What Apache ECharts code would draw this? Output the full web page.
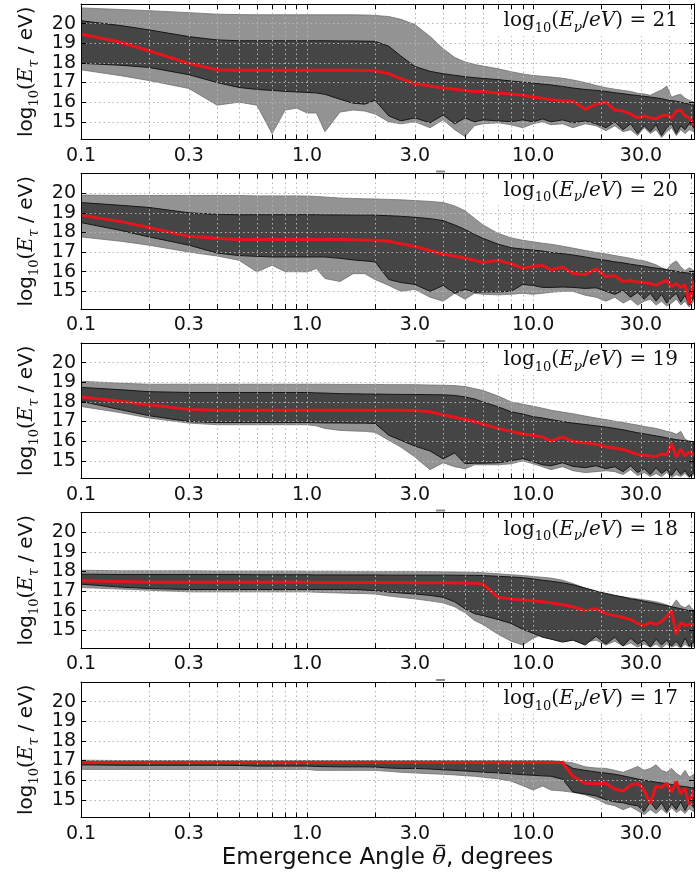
<!DOCTYPE html>
<html>
<head>
<meta charset="utf-8">
<script src="https://cdn.jsdelivr.net/npm/echarts@6/dist/echarts.min.js"></script>
<style>
  html, body { margin: 0; padding: 0; background: #ffffff; }
  #chart { width: 696px; height: 874px; }
</style>
</head>
<body>
<div id="chart"></div>
<script>
// Emergence angle grid (degrees) shared by every panel
const THETA = [0.1, 0.15, 0.2, 0.3, 0.4, 0.5, 0.6, 0.7, 0.8, 0.9,
               1.0, 1.1, 1.2, 1.4, 1.6, 1.8, 2.0, 2.3, 2.6, 3.0,
               3.5, 4.0, 4.5, 5.0, 5.5, 6.0, 7, 8, 9, 10,
               11, 12, 13.5, 15, 17, 19, 21, 23, 25, 27,
               29, 31, 33, 35, 37, 39, 41, 43, 45, 47,
               49, 51.5];

const THETA_RANGE = [0.1, 51.5];
const Y_RANGE = [14.1, 21];
const X_LABEL_VALUES = [0.1, 0.3, 1, 3, 10, 30];
const X_TICK_VALUES = [0.1, 0.2, 0.3, 0.4, 0.5, 0.6, 0.7, 0.8, 0.9,
                       1, 2, 3, 4, 5, 6, 7, 8, 9, 10, 20, 30, 40, 50];
const Y_TICK_VALUES = [15, 16, 17, 18, 19, 20];
const ENERGIES = [21, 20, 19, 18, 17];

// log10(E_nu/eV) = 21
const outerHigh21 = [20.8, 20.72, 20.66, 20.56, 20.48, 20.46, 20.45, 20.45, 20.45, 20.45,
  20.45, 20.45, 20.45, 20.45, 20.45, 20.44, 20.42, 20.36, 20.22, 19.95,
  19.35, 18.72, 18.28, 18.05, 17.92, 17.84, 17.7, 17.55, 17.44, 17.36,
  17.32, 17.28, 17.22, 17.13, 17.0, 16.85, 16.74, 16.66, 16.6, 16.55,
  16.45, 16.42, 16.35, 16.5, 16.62, 16.82, 16.25, 16.35, 16.4, 16.2,
  16.1, 16.0];
const innerHigh21 = [20.15, 19.9, 19.68, 19.34, 19.17, 19.13, 19.13, 19.13, 19.13, 19.13,
  19.13, 19.13, 19.13, 19.12, 19.12, 19.11, 19.1, 18.85, 18.35, 17.82,
  17.57, 17.45, 17.37, 17.3, 17.25, 17.21, 17.15, 17.08, 17.02, 16.97,
  16.92, 16.88, 16.8, 16.72, 16.65, 16.6, 16.55, 16.48, 16.43, 16.38,
  16.34, 16.3, 16.26, 16.22, 16.18, 16.12, 16.08, 16.05, 16.0, 15.95,
  15.9, 15.85];
const median21 = [19.47, 19.05, 18.62, 17.98, 17.65, 17.63, 17.63, 17.63, 17.63, 17.63,
  17.63, 17.63, 17.63, 17.63, 17.63, 17.62, 17.6, 17.45, 17.2, 16.95,
  16.82, 16.72, 16.66, 16.6, 16.55, 16.55, 16.47, 16.42, 16.35, 16.25,
  16.2, 16.12, 16.07, 16.05, 15.65, 15.9, 16.0, 15.6, 15.55, 15.4,
  15.2, 15.3, 15.2, 15.15, 15.3, 15.35, 15.2, 15.55, 15.6, 15.3,
  15.2, 14.85];
const innerLow21 = [17.98, 17.88, 17.77, 17.4, 17.0, 16.75, 16.65, 16.6, 16.55, 16.52,
  16.5, 16.47, 16.4, 16.15, 15.95, 15.9, 16.1, 15.3, 15.05, 15.2,
  14.95, 15.35, 14.9, 15.2, 15.0, 15.1, 15.05, 15.0, 15.1, 15.0,
  15.15, 15.0, 15.1, 14.95, 15.05, 14.9, 14.7, 15.0, 14.6, 14.9,
  14.4, 14.8, 14.5, 14.85, 14.3, 14.7, 14.9, 14.4, 14.8, 14.6,
  14.9, 14.7];
const outerLow21 = [17.65, 17.35, 17.1, 16.7, 15.85, 16.0, 15.85, 14.4, 15.6, 15.7,
  15.45, 15.45, 14.5, 15.5, 15.6, 15.55, 15.4, 15.0, 14.9, 15.0,
  14.7, 15.1, 14.6, 14.25, 14.8, 14.9, 14.95, 14.85, 14.7, 14.9,
  15.0, 14.85, 14.9, 14.7, 14.9, 14.8, 14.55, 14.8, 14.5, 14.6,
  14.3, 14.7, 14.4, 14.6, 14.2, 14.5, 14.7, 14.3, 14.6, 14.4,
  14.6, 14.5];

// log10(E_nu/eV) = 20
const outerHigh20 = [19.9, 19.88, 19.88, 19.88, 19.88, 19.88, 19.86, 19.86, 19.86, 19.86,
  19.85, 19.83, 19.8, 19.75, 19.73, 19.71, 19.7, 19.68, 19.66, 19.62,
  19.58, 19.52, 19.35, 19.1, 18.72, 18.38, 17.95, 17.72, 17.6, 17.52,
  17.45, 17.4, 17.3, 17.2, 17.08, 16.98, 16.9, 16.82, 16.75, 16.68,
  16.6, 16.55, 16.45, 16.35, 16.2, 16.1, 16.4, 16.55, 16.25, 16.05,
  16.2, 16.05];
const innerHigh20 = [19.52, 19.38, 19.27, 19.0, 18.92, 18.9, 18.9, 18.9, 18.9, 18.9,
  18.9, 18.9, 18.89, 18.89, 18.88, 18.88, 18.88, 18.85, 18.82, 18.77,
  18.7, 18.6, 18.38, 18.15, 17.9, 17.7, 17.4, 17.22, 17.15, 17.1,
  17.05, 16.98, 16.92, 16.85, 16.75, 16.65, 16.58, 16.5, 16.45, 16.38,
  16.33, 16.28, 16.22, 16.18, 16.15, 16.1, 16.06, 16.02, 15.98, 15.95,
  15.92, 15.9];
const median20 = [18.88, 18.55, 18.25, 17.8, 17.7, 17.64, 17.64, 17.64, 17.64, 17.64,
  17.64, 17.64, 17.64, 17.64, 17.63, 17.62, 17.6, 17.55, 17.42, 17.28,
  17.08, 16.9, 16.8, 16.7, 16.58, 16.47, 16.58, 16.4, 16.18, 16.28,
  16.32, 16.1, 16.24, 15.92, 15.85, 16.15, 15.75, 15.8, 15.5, 15.55,
  15.48, 15.45, 15.4, 15.3, 15.45, 15.55, 15.25, 15.4, 15.2, 15.35,
  14.35, 15.55];
const innerLow20 = [18.5, 18.1, 17.77, 17.35, 16.95, 16.82, 16.78, 16.75, 16.75, 16.75,
  16.75, 16.75, 16.75, 16.68, 16.6, 16.55, 16.5, 15.6, 15.45, 15.35,
  15.0, 15.3, 14.9, 15.1, 14.95, 14.97, 14.97, 15.0, 15.35, 15.3,
  15.2, 15.2, 15.22, 15.2, 15.15, 15.18, 15.0, 14.85, 15.05, 14.7,
  14.95, 14.6, 14.9, 14.5, 14.85, 14.4, 14.7, 14.9, 14.45, 14.8,
  14.3, 14.7];
const outerLow20 = [17.77, 17.55, 17.35, 17.0, 16.8, 16.58, 15.99, 16.33, 16.0, 16.0,
  15.99, 16.16, 15.65, 15.5, 15.9, 15.9, 15.6, 15.3, 15.0, 15.1,
  14.7, 14.5, 14.9, 14.6, 14.9, 14.85, 14.82, 14.85, 14.9, 14.85,
  14.9, 14.95, 15.0, 15.0, 14.8, 14.7, 14.5, 14.7, 14.4, 14.6,
  14.3, 14.5, 14.6, 14.3, 14.5, 14.25, 14.4, 14.6, 14.3, 14.5,
  14.2, 14.5];

// log10(E_nu/eV) = 19
const outerHigh19 = [19.05, 18.95, 18.9, 18.9, 18.9, 18.9, 18.9, 18.9, 18.9, 18.9,
  18.9, 18.9, 18.9, 18.89, 18.89, 18.89, 18.89, 18.88, 18.88, 18.88,
  18.86, 18.85, 18.83, 18.78, 18.68, 18.58, 18.3, 18.0, 17.88, 17.78,
  17.68, 17.58, 17.48, 17.4, 17.28, 17.18, 17.1, 17.02, 16.95, 16.88,
  16.82, 16.75, 16.7, 16.65, 16.58, 16.5, 16.45, 16.35, 16.5, 16.1,
  16.0, 15.9];
const innerHigh19 = [18.74, 18.62, 18.52, 18.48, 18.48, 18.48, 18.48, 18.48, 18.48, 18.48,
  18.48, 18.46, 18.45, 18.42, 18.41, 18.4, 18.4, 18.39, 18.38, 18.38,
  18.37, 18.36, 18.33, 18.25, 18.15, 18.0, 17.75, 17.5, 17.38, 17.25,
  17.18, 17.1, 17.0, 16.92, 16.85, 16.78, 16.72, 16.65, 16.58, 16.5,
  16.43, 16.38, 16.32, 16.27, 16.22, 16.17, 16.12, 16.08, 16.05, 16.02,
  16.0, 15.98];
const median19 = [18.25, 18.03, 17.86, 17.62, 17.57, 17.57, 17.57, 17.57, 17.57, 17.57,
  17.57, 17.57, 17.57, 17.57, 17.57, 17.57, 17.57, 17.57, 17.57, 17.56,
  17.5, 17.35, 17.22, 17.12, 17.0, 16.87, 16.65, 16.5, 16.37, 16.3,
  16.22, 16.0, 16.22, 15.98, 15.92, 15.85, 15.72, 15.65, 15.58, 15.45,
  15.32, 15.28, 15.25, 15.22, 15.35, 15.3, 15.88, 15.2, 15.6, 15.25,
  15.45, 15.3];
const innerLow19 = [18.03, 17.6, 17.3, 17.0, 16.95, 16.95, 16.95, 16.95, 16.95, 16.95,
  16.95, 16.94, 16.93, 16.93, 16.92, 16.92, 16.9, 16.3, 16.05, 15.75,
  15.5, 15.1, 15.4, 14.85, 14.88, 14.88, 14.9, 15.0, 15.12, 14.95,
  14.8, 14.75, 14.9, 14.72, 14.65, 14.75, 14.6, 14.7, 14.45, 14.75,
  14.4, 14.6, 14.3, 14.65, 14.35, 14.55, 14.25, 14.6, 14.3, 14.5,
  14.2, 14.4];
const outerLow19 = [17.77, 17.45, 17.18, 16.92, 16.84, 16.84, 16.84, 16.84, 16.84, 16.84,
  16.84, 16.78, 16.65, 16.55, 16.52, 16.5, 16.45, 16.05, 15.7, 15.2,
  14.55, 14.9, 14.7, 14.6, 14.8, 14.8, 14.8, 14.85, 15.0, 14.85,
  14.7, 14.55, 14.7, 14.5, 14.4, 14.45, 14.5, 14.45, 14.3, 14.55,
  14.25, 14.4, 14.2, 14.35, 14.2, 14.4, 14.15, 14.3, 14.2, 14.35,
  14.15, 14.3];

// log10(E_nu/eV) = 18
const outerHigh18 = [18.06, 18.03, 18.03, 18.03, 18.02, 18.02, 18.02, 18.02, 18.02, 18.02,
  18.01, 18.01, 18.01, 18.01, 18.0, 18.0, 18.0, 18.0, 18.0, 18.0,
  17.99, 17.98, 17.97, 17.96, 17.95, 17.93, 17.88, 17.83, 17.79, 17.74,
  17.7, 17.66, 17.55, 17.38, 17.15, 16.98, 16.8, 16.75, 16.7, 16.65,
  16.6, 16.55, 16.5, 16.45, 16.38, 16.3, 16.2, 16.55, 16.25, 16.15,
  16.3, 16.0];
const innerHigh18 = [17.86, 17.84, 17.84, 17.84, 17.84, 17.84, 17.83, 17.83, 17.83, 17.83,
  17.83, 17.82, 17.82, 17.82, 17.82, 17.82, 17.82, 17.81, 17.81, 17.81,
  17.81, 17.81, 17.81, 17.8, 17.8, 17.79, 17.75, 17.72, 17.68, 17.62,
  17.55, 17.5, 17.42, 17.32, 17.15, 17.0, 16.88, 16.78, 16.7, 16.6,
  16.55, 16.48, 16.42, 16.36, 16.3, 16.25, 16.2, 16.15, 16.1, 16.05,
  16.0, 15.95];
const median18 = [17.52, 17.48, 17.45, 17.45, 17.45, 17.45, 17.45, 17.45, 17.45, 17.45,
  17.45, 17.44, 17.44, 17.44, 17.44, 17.43, 17.43, 17.43, 17.43, 17.42,
  17.42, 17.42, 17.41, 17.41, 17.4, 17.36, 16.68, 16.6, 16.55, 16.5,
  16.45, 16.4, 16.3, 16.2, 16.0, 16.1, 15.85, 15.75, 15.65, 15.55,
  15.35, 15.25, 15.4, 15.3, 15.45, 15.7, 16.0, 14.8, 15.4, 15.25,
  15.3, 15.3];
const innerLow18 = [17.35, 17.2, 17.13, 17.08, 17.08, 17.08, 17.08, 17.08, 17.08, 17.08,
  17.08, 17.08, 17.08, 17.08, 17.08, 17.05, 17.02, 16.95, 16.9, 16.85,
  16.78, 16.68, 16.45, 16.1, 15.85, 15.75, 15.55, 15.35, 15.05, 14.85,
  14.65, 14.55, 14.4, 14.5, 14.25, 14.7, 14.3, 14.65, 14.2, 14.6,
  14.3, 14.5, 14.15, 14.55, 14.25, 14.5, 14.2, 14.45, 14.15, 14.6,
  14.2, 14.4];
const outerLow18 = [17.18, 17.1, 17.04, 16.96, 16.96, 16.96, 16.96, 16.96, 16.96, 16.96,
  16.96, 16.94, 16.92, 16.9, 16.88, 16.87, 16.85, 16.75, 16.68, 16.6,
  16.5, 16.4, 16.2, 15.9, 15.5, 15.3, 14.8, 14.45, 14.25, 14.6,
  14.8, 14.7, 14.5, 14.6, 14.4, 14.5, 14.25, 14.45, 14.2, 14.35,
  14.15, 14.3, 14.15, 14.3, 14.1, 14.3, 14.15, 14.25, 14.1, 14.3,
  14.15, 14.2];

// log10(E_nu/eV) = 17
const outerHigh17 = [17.02, 17.0, 17.0, 17.0, 17.0, 17.0, 17.0, 17.0, 17.0, 17.0,
  17.0, 17.0, 17.0, 17.0, 17.0, 17.0, 17.0, 17.0, 17.0, 17.0,
  17.0, 17.0, 17.0, 17.0, 17.0, 17.0, 17.0, 17.0, 17.0, 17.0,
  17.0, 17.0, 16.95, 16.88, 16.68, 16.62, 16.6, 16.5, 16.4, 16.55,
  16.7, 16.5, 16.6, 16.78, 16.5, 16.4, 16.6, 16.35, 16.2, 16.5,
  16.15, 16.3];
const innerHigh17 = [16.96, 16.96, 16.96, 16.96, 16.96, 16.96, 16.96, 16.96, 16.96, 16.96,
  16.96, 16.96, 16.96, 16.96, 16.96, 16.96, 16.96, 16.96, 16.96, 16.96,
  16.96, 16.96, 16.96, 16.96, 16.96, 16.96, 16.96, 16.96, 16.96, 16.96,
  16.96, 16.96, 16.9, 16.6, 16.5, 16.42, 16.36, 16.3, 16.22, 16.14,
  16.06, 16.0, 15.95, 15.9, 15.86, 15.82, 15.78, 15.74, 15.7, 15.67,
  15.64, 15.6];
const median17 = [16.9, 16.9, 16.9, 16.9, 16.9, 16.9, 16.9, 16.9, 16.9, 16.9,
  16.9, 16.9, 16.9, 16.9, 16.9, 16.9, 16.9, 16.9, 16.9, 16.9,
  16.9, 16.9, 16.9, 16.9, 16.9, 16.9, 16.9, 16.9, 16.9, 16.9,
  16.9, 16.9, 16.9, 16.2, 15.85, 15.82, 15.85, 15.55, 15.45, 15.75,
  15.85, 15.5, 14.8, 15.7, 15.62, 15.85, 15.4, 15.95, 15.3, 15.6,
  14.75, 15.5];
const innerLow17 = [16.78, 16.76, 16.76, 16.76, 16.76, 16.75, 16.72, 16.72, 16.72, 16.72,
  16.72, 16.7, 16.69, 16.68, 16.68, 16.68, 16.67, 16.62, 16.6, 16.6,
  16.57, 16.53, 16.5, 16.47, 16.44, 16.41, 16.37, 16.33, 16.28, 16.25,
  16.22, 16.2, 16.05, 15.4, 15.3, 15.2, 15.0, 14.9, 14.85, 14.75,
  14.7, 14.4, 14.9, 14.5, 14.85, 14.4, 14.8, 14.5, 14.9, 14.45,
  14.85, 14.6];
const outerLow17 = [16.55, 16.55, 16.55, 16.55, 16.55, 16.55, 16.55, 16.55, 16.55, 16.55,
  16.55, 16.5, 16.5, 16.5, 16.5, 16.5, 16.5, 16.45, 16.4, 16.37,
  16.33, 16.3, 16.27, 16.23, 16.2, 16.15, 16.07, 15.95, 15.72, 15.5,
  15.7, 15.5, 15.45, 15.38, 15.25, 15.05, 14.8, 14.7, 14.5, 14.65,
  14.45, 14.25, 14.5, 14.3, 14.55, 14.3, 14.6, 14.35, 14.5, 14.3,
  14.55, 14.4];

const PANELS = [
  { energy: ENERGIES[0], oHi: outerHigh21, iHi: innerHigh21, med: median21, iLo: innerLow21, oLo: outerLow21 },
  { energy: ENERGIES[1], oHi: outerHigh20, iHi: innerHigh20, med: median20, iLo: innerLow20, oLo: outerLow20 },
  { energy: ENERGIES[2], oHi: outerHigh19, iHi: innerHigh19, med: median19, iLo: innerLow19, oLo: outerLow19 },
  { energy: ENERGIES[3], oHi: outerHigh18, iHi: innerHigh18, med: median18, iLo: innerLow18, oLo: outerLow18 },
  { energy: ENERGIES[4], oHi: outerHigh17, iHi: innerHigh17, med: median17, iLo: innerLow17, oLo: outerLow17 }
];

// The angle axis is logarithmic: values are placed on a linear axis in log10 space
const lg = v => Math.log10(v);
const X_MIN = lg(THETA_RANGE[0]);
const X_MAX = lg(THETA_RANGE[1]);
const LOG_THETA = THETA.map(lg);
const pairs = arr => arr.map((v, k) => [LOG_THETA[k], v]);

const SANS = 'DejaVu Sans';
const SERIF = 'DejaVu Serif';
const INK = '#111111';
const GRID_LINE = { color: '#b4b4b4', type: [1.5, 3], width: 1 };

const PLOT_LEFT = 81, PLOT_WIDTH = 613, PLOT_TOP = 4, PLOT_STEP = 169.5, PLOT_HEIGHT = 135.5;

const mathRich = {
  r:  { fontFamily: SERIF, fontWeight: 'normal', fontSize: 20, color: INK, lineHeight: 28 },
  i:  { fontFamily: SERIF, fontWeight: 'normal', fontStyle: 'italic', fontSize: 20, color: INK, lineHeight: 28 },
  sb: { fontFamily: SERIF, fontWeight: 'normal', fontSize: 13, color: INK, lineHeight: 14, verticalAlign: 'bottom' },
  si: { fontFamily: SERIF, fontWeight: 'normal', fontStyle: 'italic', fontSize: 14, color: INK, lineHeight: 14, verticalAlign: 'bottom' },
  s:  { fontFamily: SANS, fontWeight: 'normal', fontSize: 20, color: INK, lineHeight: 28 }
};

// Filled band between an upper and a lower edge, closed as one polygon
function bandSeries(i, hi, lo, fill, stroke, lineWidth) {
  return {
    type: 'custom', xAxisIndex: 2 * i, yAxisIndex: 2 * i, silent: true, z: 2, clip: true,
    data: [[LOG_THETA[0], lo[0]]],
    renderItem: (params, api) => {
      const upper = hi.map((v, k) => api.coord([LOG_THETA[k], v]));
      const lower = lo.map((v, k) => api.coord([LOG_THETA[k], v])).reverse();
      return {
        type: 'polygon',
        shape: { points: upper.concat(lower) },
        style: { fill: fill, stroke: stroke, lineWidth: lineWidth, lineJoin: 'miter' }
      };
    }
  };
}

const grids = [], xAxes = [], yAxes = [], series = [], titles = [];

PANELS.forEach((p, i) => {
  const top = PLOT_TOP + i * PLOT_STEP;
  grids.push({ left: PLOT_LEFT, width: PLOT_WIDTH, top: top, height: PLOT_HEIGHT, containLabel: false });

  ['bottom', 'top'].forEach(pos => {
    const main = pos === 'bottom';
    xAxes.push({
      type: 'value', gridIndex: i, position: pos, min: X_MIN, max: X_MAX, z: 3,
      axisLine: { show: true, onZero: false, lineStyle: { color: '#000', width: 1 } },
      axisTick: { show: true, inside: true, length: 5, customValues: X_TICK_VALUES.map(lg),
                  lineStyle: { color: '#000', width: 1 } },
      axisLabel: { show: main, customValues: X_LABEL_VALUES.map(lg), margin: 7,
                   formatter: v => Math.pow(10, v).toFixed(1),
                   fontFamily: SANS, fontSize: 19, color: INK },
      splitLine: { show: main, lineStyle: GRID_LINE }
    });
  });

  ['left', 'right'].forEach(pos => {
    const main = pos === 'left';
    const ax = {
      type: 'value', gridIndex: i, position: pos, min: Y_RANGE[0], max: Y_RANGE[1], z: 3,
      axisLine: { show: true, onZero: false, lineStyle: { color: '#000', width: 1 } },
      axisTick: { show: true, inside: true, length: 5, customValues: Y_TICK_VALUES,
                  lineStyle: { color: '#000', width: 1 } },
      axisLabel: { show: main, customValues: Y_TICK_VALUES, margin: 5,
                   fontFamily: SANS, fontSize: 19, color: INK },
      splitLine: { show: main, lineStyle: GRID_LINE }
    };
    if (main) {
      ax.name = '{s|log}{sb|10}{r|(}{i|E}{si|τ}{s| / eV)}';
      ax.nameLocation = 'middle';
      ax.nameGap = 34;
      ax.nameTextStyle = { rich: mathRich };
    }
    yAxes.push(ax);
  });

  series.push(bandSeries(i, p.oHi, p.oLo, '#939393', '#707070', 0.8));
  series.push(bandSeries(i, p.iHi, p.iLo, '#454545', '#161616', 1));
  series.push({
    type: 'line', xAxisIndex: 2 * i, yAxisIndex: 2 * i, symbol: 'none', silent: true, z: 2,
    data: pairs(p.med), lineStyle: { color: '#e8141b', width: 3 }
  });

  titles.push({
    text: '{r|log}{sb|10}{r|(}{i|E}{si|ν}{r|/}{i|eV}{r|) = ' + p.energy + '}',
    right: 6, top: top + 2, padding: [1, 12, 1, 14],
    backgroundColor: '#ffffff', z: 8,
    textStyle: { fontWeight: 'normal', rich: mathRich }
  });
});

// Axis title under the bottom panel; the bar over theta is drawn as a short stroke
const AXIS_TITLE_SIZE = 23;
const AXIS_TITLE_PARTS = ['Emergence Angle ', 'θ', ', degrees'];
const measure = document.createElement('canvas').getContext('2d');
measure.font = AXIS_TITLE_SIZE + 'px "' + SANS + '"';
const wHead = measure.measureText(AXIS_TITLE_PARTS[0]).width;
const wTail = measure.measureText(AXIS_TITLE_PARTS[2]).width;
measure.font = 'italic ' + AXIS_TITLE_SIZE + 'px "' + SERIF + '"';
const wTheta = measure.measureText(AXIS_TITLE_PARTS[1]).width;
const titleCx = PLOT_LEFT + PLOT_WIDTH / 2;
const titleCy = 858;
const thetaCx = titleCx - (wHead + wTheta + wTail) / 2 + wHead + wTheta / 2;

const graphics = [
  {
    type: 'text', x: titleCx, y: titleCy, z: 10,
    style: {
      text: '{s|' + AXIS_TITLE_PARTS[0] + '}{t|' + AXIS_TITLE_PARTS[1] + '}{s|' + AXIS_TITLE_PARTS[2] + '}',
      align: 'center', verticalAlign: 'middle',
      rich: {
        s: { fontFamily: SANS, fontSize: AXIS_TITLE_SIZE, fill: INK, lineHeight: 28 },
        t: { fontFamily: SERIF, fontStyle: 'italic', fontSize: AXIS_TITLE_SIZE, fill: INK, lineHeight: 28 }
      }
    }
  },
  {
    type: 'line', z: 10,
    shape: { x1: thetaCx - 3, y1: titleCy - 12.5, x2: thetaCx + 6, y2: titleCy - 12.5 },
    style: { stroke: INK, lineWidth: 1.4 }
  }
];
// the same bar peeks out above each lower panel, where the upper panels' axis titles sit hidden
for (let i = 1; i < PANELS.length; i++) {
  const y = PLOT_TOP + i * PLOT_STEP - 2;
  graphics.push({
    type: 'line', z: 10,
    shape: { x1: thetaCx - 3, y1: y, x2: thetaCx + 6, y2: y },
    style: { stroke: '#8c8c8c', lineWidth: 2 }
  });
}

const chart = echarts.init(document.getElementById('chart'), null, { renderer: 'canvas' });
chart.setOption({
  animation: false,
  backgroundColor: '#ffffff',
  title: titles,
  grid: grids,
  xAxis: xAxes,
  yAxis: yAxes,
  series: series,
  graphic: graphics
});
</script>
</body>
</html>
